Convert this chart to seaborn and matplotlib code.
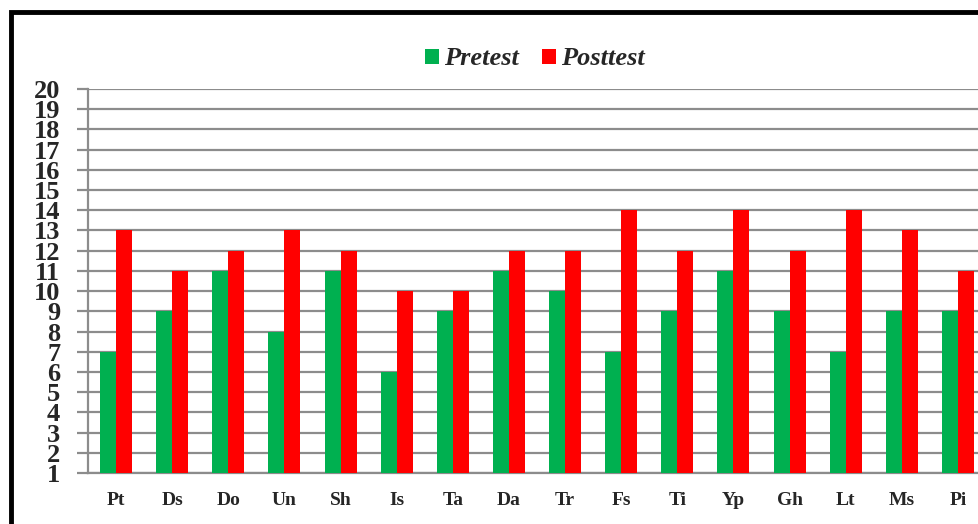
import matplotlib
matplotlib.use("Agg")
import matplotlib.pyplot as plt
import pandas as pd
import seaborn as sns
from matplotlib.patches import Rectangle

# data
categories = ["Pt", "Ds", "Do", "Un", "Sh", "Is", "Ta", "Da",
              "Tr", "Fs", "Ti", "Yp", "Gh", "Lt", "Ms", "Pi"]
pretest = [7, 9, 11, 8, 11, 6, 9, 11, 10, 7, 9, 11, 9, 7, 9, 9]
posttest = [13, 11, 12, 13, 12, 10, 10, 12, 12, 14, 12, 14, 12, 14, 13, 11]
y_ticks = list(range(1, 21))

sns.set_theme(style="white")
plt.rcParams["font.family"] = ["Liberation Serif", "DejaVu Serif"]

df = pd.DataFrame({
    "cat": categories * 2,
    "score": pretest + posttest,
    "test": ["Pretest"] * len(categories) + ["Posttest"] * len(categories),
})

fig = plt.figure(figsize=(9.79, 5.24), dpi=100)
ax = fig.add_axes([88 / 979, 51 / 524, 898 / 979, 384 / 524])

sns.barplot(data=df, x="cat", y="score", hue="test", order=categories,
            hue_order=["Pretest", "Posttest"],
            palette={"Pretest": "#00B050", "Posttest": "#FF0000"},
            width=0.57, gap=0, saturation=1, errorbar=None, linewidth=0,
            ax=ax, zorder=3)

ax.set_ylim(1, 20)
ax.set_xlim(-0.5, len(categories) - 0.5)
ax.set_yticks(y_ticks)
ax.set_yticklabels([str(t) for t in y_ticks], fontsize=19, fontweight="bold")
ax.set_xticks(range(len(categories)))
ax.set_xticklabels(categories, fontsize=14, fontweight="bold")
ax.set_xlabel("")
ax.set_ylabel("")

ax.yaxis.grid(True, color="#8C8C8C", linewidth=1.6, zorder=0)
ax.set_axisbelow(True)
for side in ["top", "right"]:
    ax.spines[side].set_visible(False)
for side in ["left", "bottom"]:
    ax.spines[side].set_color("#8C8C8C")
    ax.spines[side].set_linewidth(1.6)
ax.tick_params(axis="y", which="major", left=True, length=8, width=1.6,
               color="#8C8C8C", pad=12)
ax.tick_params(axis="x", bottom=False, pad=8)

handles, labels = ax.get_legend_handles_labels()
ax.legend(handles, labels, loc="upper center", bbox_to_anchor=(0.5 - 2 / 898, 1.17),
          ncol=2, frameon=False, handlelength=0.5, handleheight=0.5,
          handletextpad=0.2, columnspacing=0.9,
          prop={"family": "Liberation Serif", "weight": "bold",
                "style": "italic", "size": 19})

# outer chart frame (clipped on the right and bottom like the reference)
fig.patches.append(Rectangle((11 / 979, -0.1), 1.2, (524 - 12) / 524 + 0.1,
                             transform=fig.transFigure, fill=False,
                             edgecolor="black", linewidth=3.5))

fig.savefig("out.png", dpi=100)
